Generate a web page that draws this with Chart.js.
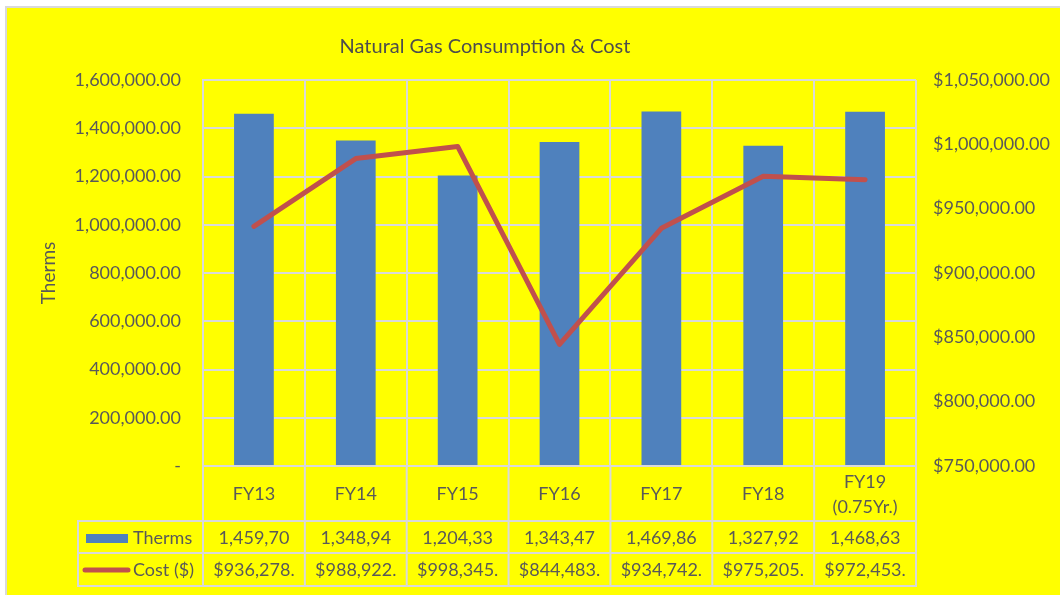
<!DOCTYPE html>
<html>
<head>
<meta charset="utf-8">
<script src="https://cdn.jsdelivr.net/npm/chart.js@4/dist/chart.umd.min.js"></script>
<style>
  html, body { margin: 0; padding: 0; background: #fff; }
  #wrap { width: 1060px; height: 595px; position: relative; }
</style>
</head>
<body>
<div id="wrap"><canvas id="gas"></canvas></div>
<script>
const categories = ['FY13', 'FY14', 'FY15', 'FY16', 'FY17', 'FY18', ['FY19', '(0.75Yr.)']];
const therms = [1459700, 1348940, 1204330, 1343470, 1469860, 1327920, 1468630];
const cost = [936278, 988922, 998345, 844483, 934742, 975205, 972453];
const thermTicks = [0, 200000, 400000, 600000, 800000, 1000000, 1200000, 1400000, 1600000];
const costTicks = [750000, 800000, 850000, 900000, 950000, 1000000, 1050000];
const chartTitle = 'Natural Gas Consumption & Cost';

const TEXT = '#595959';
const GRID = '#D9D9D9';
const FONT = 'Lato';

function fmt2(v) {
  return v.toLocaleString('en-US', { minimumFractionDigits: 2, maximumFractionDigits: 2 });
}

// yellow panel with the grey frame, plus the title (it sits left of centre in the original)
const panelBg = {
  id: 'panelBg',
  beforeDraw(chart) {
    const { ctx, width, height } = chart;
    ctx.save();
    ctx.fillStyle = '#fff';
    ctx.fillRect(0, 0, width, height);
    ctx.fillStyle = '#FFFF00';
    ctx.fillRect(7, 8, width - 7, height - 8);
    ctx.strokeStyle = GRID;
    ctx.lineWidth = 2;
    ctx.beginPath();
    ctx.moveTo(6, height);
    ctx.lineTo(6, 7);
    ctx.lineTo(width, 7);
    ctx.stroke();

    ctx.fillStyle = '#4d4d4d';
    ctx.font = '20px ' + FONT;
    ctx.textAlign = 'center';
    ctx.textBaseline = 'middle';
    ctx.fillText(chartTitle, 485, 47);
    ctx.restore();
  }
};

// Excel style data table under the plot
const dataTable = {
  id: 'dataTable',
  afterDraw(chart) {
    const { ctx, chartArea } = chart;
    const x = chart.scales.x;
    const n = categories.length;
    const colW = (chartArea.right - chartArea.left) / n;
    const top = chartArea.bottom;
    const r1 = 521, r2 = 553, r3 = 586;
    const legendLeft = 78;

    ctx.save();
    ctx.strokeStyle = GRID;
    ctx.lineWidth = 2;
    ctx.beginPath();
    for (let i = 0; i <= n; i++) {
      const gx = chartArea.left + i * colW;
      ctx.moveTo(gx, top);
      ctx.lineTo(gx, r3);
    }
    ctx.moveTo(legendLeft, r1);
    ctx.lineTo(legendLeft, r3);
    [r1, r2, r3].forEach(y => {
      ctx.moveTo(legendLeft - 1, y);
      ctx.lineTo(chartArea.right + 1, y);
    });
    ctx.stroke();

    ctx.fillStyle = TEXT;
    ctx.font = '18px ' + FONT;
    ctx.textAlign = 'center';
    ctx.textBaseline = 'middle';
    categories.forEach((c, i) => {
      const cx = x.getPixelForValue(i);
      if (Array.isArray(c)) {
        ctx.fillText(c[0], cx, 482);
        ctx.fillText(c[1], cx, 507);
      } else {
        ctx.fillText(c, cx, 494);
      }
      // clipped the way the spreadsheet cell clips them
      ctx.fillText(fmt2(therms[i]).slice(0, 8), cx, 538);
      ctx.fillText(('$' + fmt2(cost[i])).slice(0, 9), cx, 570);
    });

    // legend keys
    ctx.fillStyle = '#4F81BD';
    ctx.fillRect(86, 534, 42, 9);
    ctx.strokeStyle = '#C0504D';
    ctx.lineWidth = 5;
    ctx.lineCap = 'round';
    ctx.beginPath();
    ctx.moveTo(85, 570);
    ctx.lineTo(128, 570);
    ctx.stroke();
    ctx.fillStyle = TEXT;
    ctx.textAlign = 'left';
    ctx.fillText('Therms', 133, 538);
    ctx.fillText('Cost ($)', 133, 570);
    ctx.restore();
  }
};

new Chart(document.getElementById('gas'), {
  type: 'bar',
  data: {
    labels: categories,
    datasets: [
      {
        type: 'line',
        label: 'Cost ($)',
        data: cost,
        yAxisID: 'y1',
        borderColor: '#C0504D',
        borderWidth: 5,
        borderCapStyle: 'round',
        borderJoinStyle: 'round',
        pointRadius: 0,
        tension: 0,
        order: 0
      },
      {
        label: 'Therms',
        data: therms,
        yAxisID: 'y',
        backgroundColor: '#4F81BD',
        barPercentage: 0.39,
        categoryPercentage: 1,
        order: 1
      }
    ]
  },
  options: {
    responsive: true,
    maintainAspectRatio: false,
    animation: false,
    layout: { padding: { left: 30, right: 0, top: 80, bottom: 0 } },
    scales: {
      x: {
        grid: { color: GRID, lineWidth: 2, offset: true, drawTicks: false },
        border: { color: GRID, width: 2 },
        ticks: { display: false },
        afterFit: s => { s.height = 129; }
      },
      y: {
        position: 'left',
        min: 0,
        max: 1600000,
        afterBuildTicks: s => { s.ticks = thermTicks.map(v => ({ value: v })); },
        grid: { color: GRID, lineWidth: 2, drawTicks: false },
        border: { color: GRID, width: 2 },
        ticks: {
          color: TEXT,
          font: { family: FONT, size: 18 },
          padding: 22,
          callback: v => v === 0 ? '-' : fmt2(v)
        },
        title: {
          display: true,
          text: 'Therms',
          color: TEXT,
          font: { family: FONT, size: 19 },
          padding: { top: 7, bottom: 0 }
        },
        afterFit: s => { s.width = 173; }
      },
      y1: {
        position: 'right',
        min: 750000,
        max: 1050000,
        afterBuildTicks: s => { s.ticks = costTicks.map(v => ({ value: v })); },
        grid: { drawOnChartArea: false, drawTicks: false },
        border: { display: false },
        ticks: {
          color: TEXT,
          font: { family: FONT, size: 18 },
          padding: 17,
          callback: v => '$' + fmt2(v)
        },
        afterFit: s => { s.width = 144; }
      }
    },
    plugins: {
      legend: { display: false },
      tooltip: { enabled: false },
      title: { display: false }
    }
  },
  plugins: [panelBg, dataTable]
});
</script>
</body>
</html>
